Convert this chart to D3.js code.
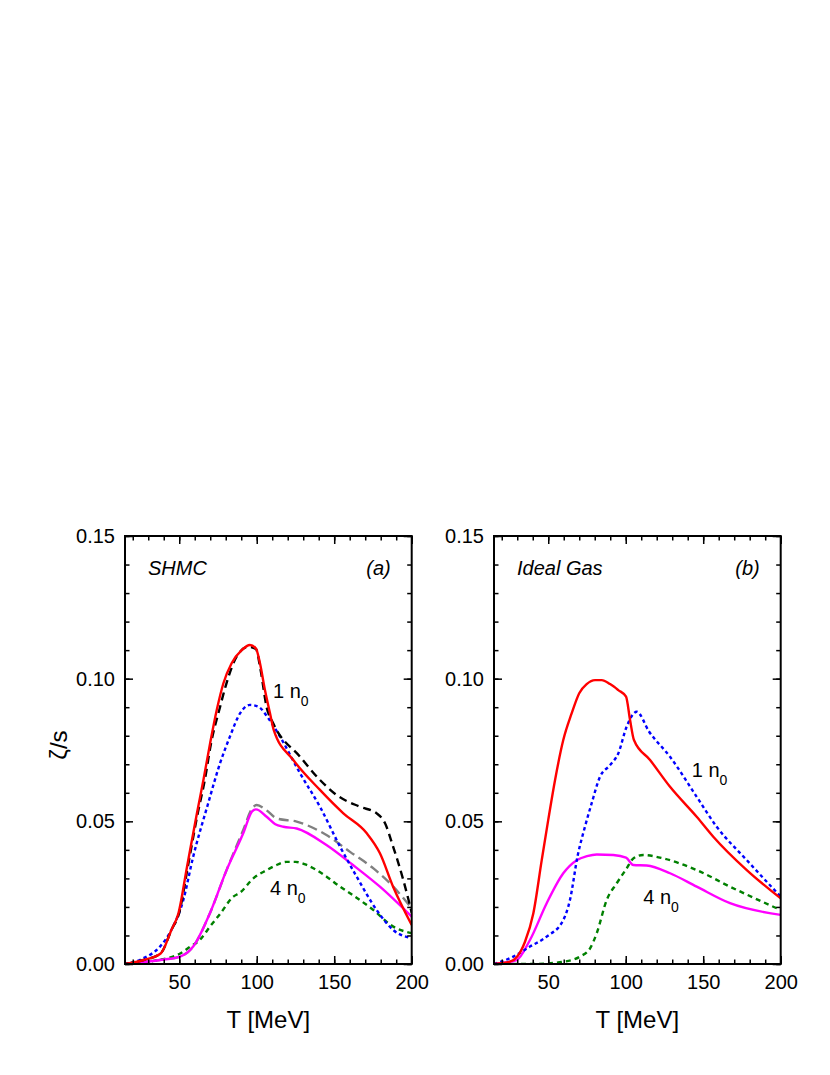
<!DOCTYPE html>
<html>
<head>
<meta charset="utf-8">
<script src="https://cdn.jsdelivr.net/npm/d3@7"></script>
<style>
  body { margin: 0; background: #fff; }
  svg { font-family: Arial, "Liberation Sans", sans-serif; }
</style>
</head>
<body>
<div id="chart"></div>
<script>
// ---- data (T in MeV, zeta/s) ----
const xTicks = [50, 100, 150, 200];
const yTicks = [0, 0.05, 0.10, 0.15];
const xMinor = [20, 30, 40, 50, 60, 70, 80, 90, 100, 110, 120, 130, 140, 150, 160, 170, 180, 190, 200];
const yMinor = [0, 0.01, 0.02, 0.03, 0.04, 0.05, 0.06, 0.07, 0.08, 0.09, 0.10, 0.11, 0.12, 0.13, 0.14, 0.15];

// panel (a) SHMC
const aRedT = [15, 27, 38, 45, 49.5, 55, 61.3, 65.6, 69.9, 74.2, 78.5, 83.8, 90.3, 95.6, 99.5, 102.1, 105.3, 108.6, 111, 123.6, 140.8, 155.9, 171, 179.5, 188, 200];
const aRedZ = [0, 0.0014, 0.0037, 0.012, 0.0178, 0.034, 0.0525, 0.0645, 0.0773, 0.089, 0.0984, 0.1054, 0.110, 0.1118, 0.1106, 0.1054, 0.096, 0.0878, 0.082, 0.0715, 0.061, 0.0528, 0.0458, 0.0388, 0.0271, 0.0137];
const aBlackT = [15, 27, 38, 45, 50, 55.5, 62, 66.5, 70.5, 76.3, 80, 87, 94.6, 99.5, 102.5, 106.4, 110.7, 128, 140.8, 151.6, 166.6, 177.4, 182.8, 188.1, 194.6, 200];
const aBlackZ = [0, 0.0014, 0.0037, 0.012, 0.018, 0.034, 0.053, 0.0645, 0.0773, 0.090, 0.0975, 0.1077, 0.1112, 0.1104, 0.103, 0.090, 0.0843, 0.0726, 0.0645, 0.0592, 0.0551, 0.0528, 0.0493, 0.041, 0.0294, 0.018];
const aBlueT = [15, 26.8, 37.6, 45, 52.6, 59, 68.5, 76.3, 82.7, 89.2, 95.6, 101, 107.5, 115, 128, 140.8, 153.8, 164.5, 177.4, 188.1, 200];
const aBlueZ = [0, 0.002, 0.0061, 0.012, 0.0224, 0.0376, 0.056, 0.0703, 0.0797, 0.0878, 0.0908, 0.0902, 0.0861, 0.0797, 0.0668, 0.0551, 0.0411, 0.0306, 0.0189, 0.0119, 0.009];
const aGrayT = [15, 37.6, 50.5, 59, 69.8, 80.6, 91.3, 97, 100, 106, 113, 125.8, 145, 160.2, 175.3, 188.1, 200];
const aGrayZ = [0, 0.0014, 0.0026, 0.0061, 0.0178, 0.033, 0.047, 0.0545, 0.0557, 0.054, 0.051, 0.0499, 0.0452, 0.0393, 0.0335, 0.0271, 0.0195];
const aMagT = [15, 37.6, 50.5, 59, 69.8, 80.6, 91.3, 97, 99.5, 106.4, 112, 117.2, 125.8, 145, 162.1, 179.5, 200];
const aMagZ = [0, 0.0014, 0.0026, 0.0061, 0.0178, 0.033, 0.0458, 0.0535, 0.0542, 0.0516, 0.049, 0.0481, 0.0475, 0.0417, 0.0347, 0.0271, 0.0166];
const aGreenT = [15, 30, 41.9, 50, 56.9, 63.4, 69.8, 76.3, 84.9, 89.2, 97.8, 106.4, 112, 119.3, 125, 132.2, 145.1, 153.8, 160.2, 175.3, 188.1, 200];
const aGreenZ = [0, 0.0008, 0.002, 0.0035, 0.006, 0.0085, 0.0131, 0.0175, 0.0236, 0.025, 0.030, 0.0329, 0.0345, 0.0358, 0.0358, 0.0347, 0.0306, 0.0271, 0.0248, 0.0189, 0.0131, 0.0108];

// panel (b) Ideal Gas
const bRedT = [15, 25.3, 30, 35, 40.4, 45.8, 50, 54.4, 59.7, 65.1, 70, 74.8, 80.2, 84.5, 89.9, 95.2, 100.2, 102.8, 105.3, 115.7, 128.6, 145.8, 156.5, 178.1, 200];
const bRedZ = [0, 0.0008, 0.0026, 0.0078, 0.0178, 0.0364, 0.0505, 0.0645, 0.0785, 0.0878, 0.0949, 0.0981, 0.0995, 0.0995, 0.0981, 0.096, 0.0937, 0.0855, 0.0785, 0.0715, 0.0621, 0.0516, 0.0446, 0.0329, 0.023];
const bBlueT = [15, 27.5, 38.2, 49, 59.7, 64, 69, 73.7, 78, 83.4, 89.9, 95.2, 100.6, 107.1, 115, 128.6, 145.8, 158.7, 178.1, 200];
const bBlueZ = [0, 0.0026, 0.0061, 0.0096, 0.0154, 0.0224, 0.038, 0.0481, 0.0563, 0.0656, 0.0697, 0.0738, 0.0832, 0.0884, 0.0815, 0.0726, 0.0586, 0.0481, 0.0364, 0.0236];
const bMagT = [15, 29.6, 38.2, 49, 59.7, 68.4, 75, 81.3, 92, 100.2, 104.9, 113.5, 128.6, 145.8, 167.3, 200];
const bMagZ = [0, 0.0014, 0.0084, 0.0213, 0.0318, 0.0364, 0.0378, 0.0384, 0.0382, 0.0373, 0.0347, 0.0345, 0.0318, 0.0271, 0.0213, 0.0172];
const bGreenT = [15, 40, 59.7, 70.5, 77, 81.3, 87.7, 94.2, 100.6, 104.9, 111.3, 124.3, 145.8, 167.3, 200];
const bGreenZ = [0, 0, 0.0008, 0.0026, 0.0055, 0.0108, 0.0224, 0.0283, 0.0335, 0.037, 0.0382, 0.037, 0.0329, 0.0271, 0.0189];

const zip = (t, z) => t.map((d, i) => [d, z[i]]);

const panels = [
  {
    id: 'a', left: 125, name: 'SHMC', tag: '(a)',
    series: [
      { data: zip(aGrayT, aGrayZ), color: '#808080', dash: '10,5' },
      { data: zip(aGreenT, aGreenZ), color: '#008000', dash: '5,4' },
      { data: zip(aMagT, aMagZ), color: '#ff00ff', dash: null },
      { data: zip(aBlueT, aBlueZ), color: '#0000ff', dash: '3.5,3' },
      { data: zip(aBlackT, aBlackZ), color: '#000000', dash: '8,5' },
      { data: zip(aRedT, aRedZ), color: '#ff0000', dash: null }
    ],
    labels: [
      { x: 110.5, y: 0.0932, n: '1' },
      { x: 108.6, y: 0.0242, n: '4' }
    ]
  },
  {
    id: 'b', left: 494, name: 'Ideal Gas', tag: '(b)',
    series: [
      { data: zip(bGreenT, bGreenZ), color: '#008000', dash: '5,4' },
      { data: zip(bMagT, bMagZ), color: '#ff00ff', dash: null },
      { data: zip(bBlueT, bBlueZ), color: '#0000ff', dash: '3.5,3' },
      { data: zip(bRedT, bRedZ), color: '#ff0000', dash: null }
    ],
    labels: [
      { x: 142.6, y: 0.0656, n: '1' },
      { x: 111.3, y: 0.021, n: '4' }
    ]
  }
];

const W = 830, H = 1075;
const plotTop = 536, plotBottom = 964, plotW = 286.7;

const svg = d3.select('#chart')
  .append('svg')
    .attr('width', W)
    .attr('height', H);

panels.forEach(p => {
  const x = d3.scaleLinear().domain([15, 200]).range([p.left, p.left + plotW]);
  const y = d3.scaleLinear().domain([0, 0.15]).range([plotBottom, plotTop]);

  const g = svg.append('g');

  g.append('clipPath').attr('id', 'clip-' + p.id)
    .append('rect')
      .attr('x', p.left).attr('y', plotTop)
      .attr('width', plotW).attr('height', plotBottom - plotTop);

  const line = d3.line()
    .x(d => x(d[0]))
    .y(d => y(d[1]))
    .curve(d3.curveMonotoneX);

  g.append('g').attr('clip-path', `url(#clip-${p.id})`)
    .selectAll('path')
    .data(p.series)
    .enter()
    .append('path')
      .attr('d', d => line(d.data))
      .style('fill', 'none')
      .style('stroke', d => d.color)
      .style('stroke-width', 2.4)
      .style('stroke-dasharray', d => d.dash);

  // minor ticks, all four sides, pointing inwards
  const minor = [
    [d3.axisBottom(x).tickValues(xMinor), `translate(0,${plotBottom})`],
    [d3.axisTop(x).tickValues(xMinor), `translate(0,${plotTop})`],
    [d3.axisLeft(y).tickValues(yMinor), `translate(${p.left},0)`],
    [d3.axisRight(y).tickValues(yMinor), `translate(${p.left + plotW},0)`]
  ];
  minor.forEach(([ax, tr]) => {
    const a = g.append('g').attr('transform', tr)
      .call(ax.tickSizeInner(-4.5).tickSizeOuter(0).tickFormat(''));
    a.select('.domain').remove();
    a.selectAll('line').style('stroke-width', 1.5);
  });

  // major ticks
  const xb = g.append('g').attr('transform', `translate(0,${plotBottom})`)
    .call(d3.axisBottom(x).tickValues(xTicks).tickSizeInner(-8).tickSizeOuter(0).tickPadding(11));
  const xt = g.append('g').attr('transform', `translate(0,${plotTop})`)
    .call(d3.axisTop(x).tickValues(xTicks).tickSizeInner(-8).tickSizeOuter(0).tickFormat(''));
  const yl = g.append('g').attr('transform', `translate(${p.left},0)`)
    .call(d3.axisLeft(y).tickValues(yTicks).tickSizeInner(-8).tickSizeOuter(0).tickPadding(10).tickFormat(d3.format('.2f')));
  const yr = g.append('g').attr('transform', `translate(${p.left + plotW},0)`)
    .call(d3.axisRight(y).tickValues(yTicks).tickSizeInner(-8).tickSizeOuter(0).tickFormat(''));
  [xb, xt, yl, yr].forEach(a => {
    a.select('.domain').remove();
    a.selectAll('line').style('stroke-width', 1.5);
    a.selectAll('text')
      .style('font-family', 'Arial, "Liberation Sans", sans-serif')
      .style('font-size', '20px')
      .style('fill', '#000');
  });

  g.append('rect')
    .attr('x', p.left).attr('y', plotTop)
    .attr('width', plotW).attr('height', plotBottom - plotTop)
    .style('fill', 'none')
    .style('stroke', '#000')
    .style('stroke-width', 2);

  g.append('text')
    .attr('x', p.left + 23).attr('y', 575)
    .style('font-size', '20px').style('font-style', 'italic')
    .text(p.name);
  g.append('text')
    .attr('x', p.left + plotW - 21).attr('y', 575)
    .attr('text-anchor', 'end')
    .style('font-size', '20px').style('font-style', 'italic')
    .text(p.tag);

  p.labels.forEach(l => {
    const t = g.append('text')
      .attr('x', x(l.x)).attr('y', y(l.y))
      .style('font-size', '20px');
    t.append('tspan').text(l.n + ' n');
    t.append('tspan').attr('dy', 8).style('font-size', '14px').text('0');
  });

  g.append('text')
    .attr('x', p.left + plotW / 2).attr('y', 1028)
    .attr('text-anchor', 'middle')
    .style('font-size', '24px')
    .text('T [MeV]');
});

svg.append('text')
  .attr('transform', 'translate(67,745) rotate(-90)')
  .attr('text-anchor', 'middle')
  .style('font-size', '24px')
  .text('ζ/s');
</script>
</body>
</html>
